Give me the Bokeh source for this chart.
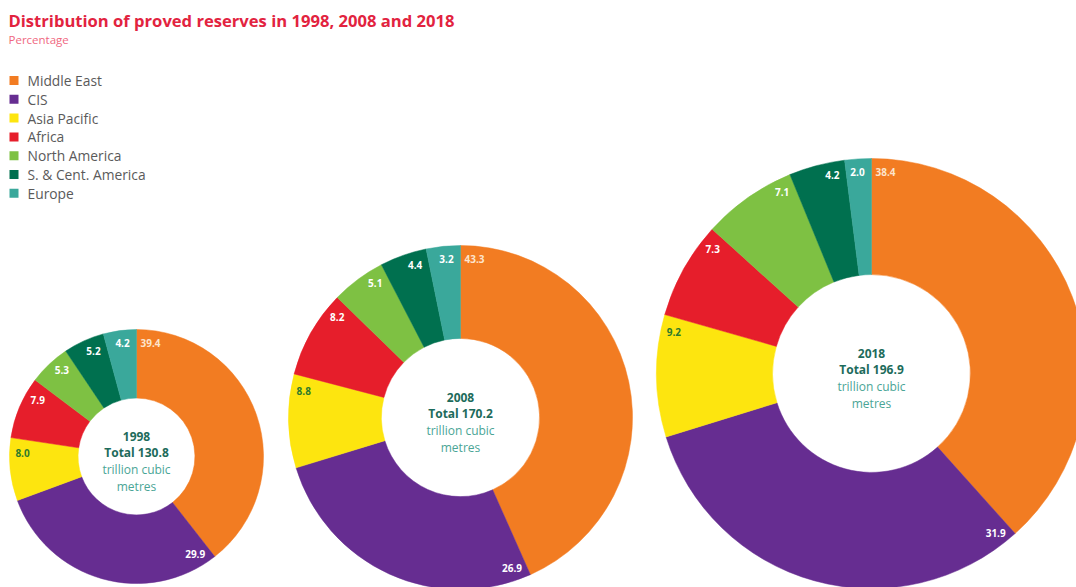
import math
from bokeh.plotting import figure
from bokeh.models import Range1d, ColumnDataSource
from bokeh.core.properties import value
from bokeh.embed import file_html
from bokeh.resources import INLINE

# ---------------- data ----------------
regions = ["Middle East", "CIS", "Asia Pacific", "Africa", "North America",
           "S. & Cent. America", "Europe"]
years = ["1998", "2008", "2018"]
totals = [130.8, 170.2, 196.9]
share_1998 = [39.4, 29.9, 8.0, 7.9, 5.3, 5.2, 4.2]
share_2008 = [43.3, 26.9, 8.8, 8.2, 5.1, 4.4, 3.2]
share_2018 = [38.4, 31.9, 9.2, 7.3, 7.1, 4.2, 2.0]
shares = [share_1998, share_2008, share_2018]

# ---------------- styling / layout ----------------
W, H = 1076, 587
colors = ["#f27c22", "#662d91", "#fde50f", "#e61e2b", "#7ec143", "#00704f", "#3aa89b"]
label_colors = ["#fde4cc", "#ffffff", "#2f7a2c", "#ffffff", "#ffffff", "#ffffff", "#ffffff"]
centers_px = [(136, 456), (460, 417), (871, 373)]
outer_r = [127, 172, 215]
inner_ratio = 0.46
FONT = "Open Sans"


def Y(ypx):
    return H - ypx


p = figure(width=W, height=H, x_range=Range1d(0, W), y_range=Range1d(0, H),
           output_backend="svg", toolbar_location=None, min_border=0,
           background_fill_color="white", border_fill_color="white")
p.axis.visible = False
p.grid.visible = False
p.outline_line_color = None

# ---------------- donuts ----------------
for k, (vals, (cx, cy), R) in enumerate(zip(shares, centers_px, outer_r)):
    tot = sum(vals)
    cum = 0.0
    starts, ends = [], []
    lx, ly, ltxt, lcol = [], [], [], []
    for i, v in enumerate(vals):
        t1 = cum / tot * 2 * math.pi          # clockwise from top
        cum += v
        t2 = cum / tot * 2 * math.pi
        starts.append(math.pi / 2 - t1)
        ends.append(math.pi / 2 - t2)
        # label near the wedge boundary, just inside the rim
        rl = R - 13
        d = 14.0 / rl
        th = t1 + d if i < 2 else t2 - d
        lx.append(cx + rl * math.sin(th))
        ly.append(Y(cy) + rl * math.cos(th))
        ltxt.append(f"{v:.1f}")
        lcol.append(label_colors[i])
    src = ColumnDataSource(dict(start=starts, end=ends, color=colors,
                                region=regions))
    p.annular_wedge(x=cx, y=Y(cy), inner_radius=R * inner_ratio, outer_radius=R,
                    start_angle="start", end_angle="end", direction="clock",
                    fill_color="color", line_color="color", line_width=0.5,
                    source=src)
    p.text(x=lx, y=ly, text=ltxt, text_color=lcol, text_font=value(FONT),
           text_font_style="bold", text_font_size="10px",
           text_align="center", text_baseline="middle")
    # centre text
    p.text(x=[cx, cx], y=[Y(cy - 20), Y(cy - 4)],
           text=[years[k], f"Total {totals[k]:.1f}"],
           text_color="#1d6b5b", text_font=value(FONT), text_font_style="bold",
           text_font_size="12px", text_align="center", text_baseline="middle")
    p.text(x=[cx, cx], y=[Y(cy + 13), Y(cy + 30)],
           text=["trillion cubic", "metres"],
           text_color="#4aa596", text_font=value(FONT),
           text_font_size="12px", text_align="center", text_baseline="middle")

# ---------------- title ----------------
p.text(x=[8], y=[Y(20)], text=["Distribution of proved reserves in 1998, 2008 and 2018"],
       text_color="#e2233f", text_font=value(FONT), text_font_style="bold",
       text_font_size="16.6px", text_align="left", text_baseline="middle")
p.text(x=[8], y=[Y(39)], text=["Percentage"],
       text_color="#f0687f", text_font=value(FONT),
       text_font_size="11.5px", text_align="left", text_baseline="middle")

# ---------------- legend ----------------
leg_y = [Y(80 + 18.8 * i) for i in range(len(regions))]
p.rect(x=[13.5] * len(regions), y=leg_y, width=9, height=9,
       fill_color=colors, line_color=None)
p.text(x=[27] * len(regions), y=leg_y, text=regions, text_color="#5a5a5a",
       text_font=value(FONT), text_font_size="13.8px",
       text_align="left", text_baseline="middle")

open("out.html", "w").write(file_html(p, INLINE))
